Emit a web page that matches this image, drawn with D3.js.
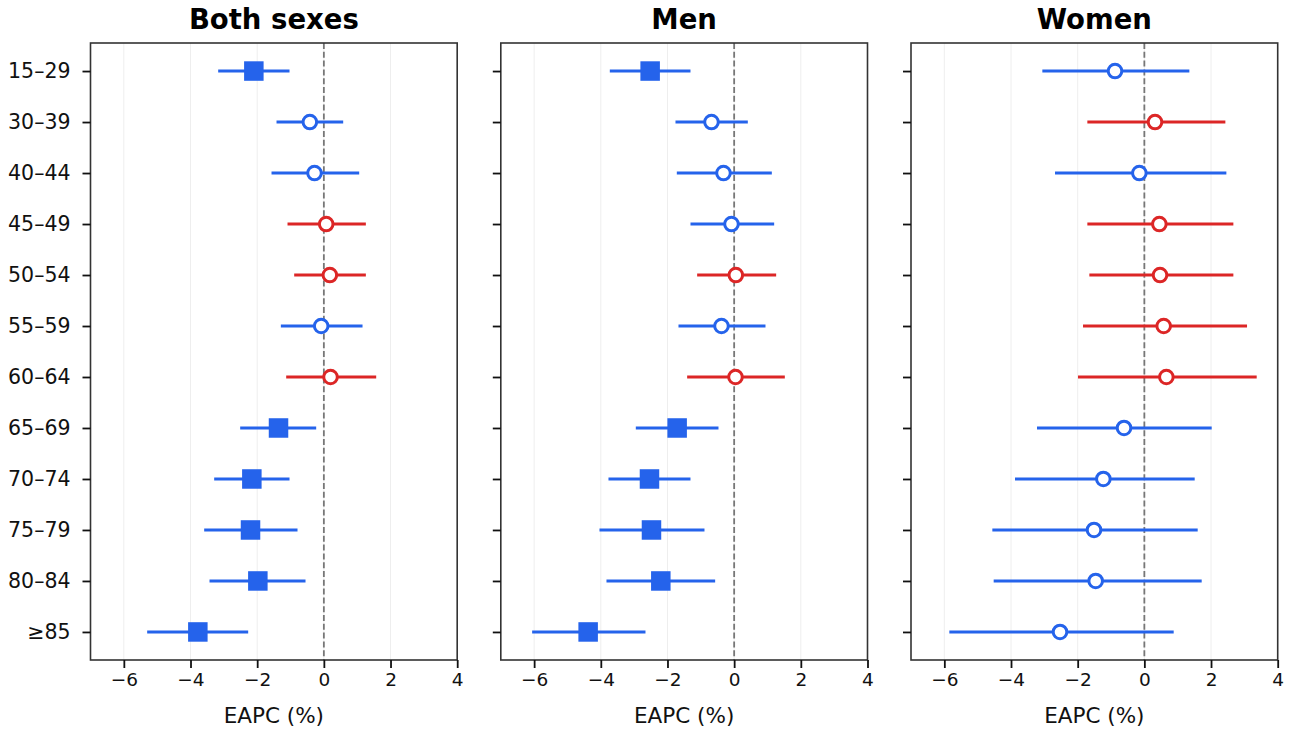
<!DOCTYPE html>
<html>
<head>
<meta charset="utf-8">
<script src="https://cdn.jsdelivr.net/npm/d3@7"></script>
<style>
  body { margin: 0; background: #fff; }
  svg { display: block; font-family: "DejaVu Sans", sans-serif; }
</style>
</head>
<body>
<svg id="chart" width="1293" height="731"></svg>
<script>
// age groups, top to bottom
const ageGroups = ["15–29", "30–39", "40–44", "45–49", "50–54", "55–59", "60–64",
                   "65–69", "70–74", "75–79", "80–84", "≥85"];

// EAPC estimates and 95% CI
const bothEst = [-2.10, -0.42, -0.28, 0.07, 0.18, -0.08, 0.20, -1.36, -2.16, -2.20, -1.98, -3.78];
const bothLo  = [-3.17, -1.42, -1.57, -1.09, -0.89, -1.29, -1.13, -2.51, -3.29, -3.59, -3.43, -5.30];
const bothHi  = [-1.03, 0.58, 1.06, 1.26, 1.26, 1.16, 1.57, -0.23, -1.03, -0.79, -0.55, -2.27];

const menEst = [-2.52, -0.68, -0.32, -0.08, 0.05, -0.38, 0.04, -1.71, -2.54, -2.48, -2.20, -4.38];
const menLo  = [-3.73, -1.76, -1.72, -1.31, -1.11, -1.67, -1.41, -2.95, -3.77, -4.04, -3.83, -6.06];
const menHi  = [-1.31, 0.41, 1.13, 1.20, 1.26, 0.94, 1.52, -0.47, -1.31, -0.89, -0.57, -2.66];

const womenEst = [-0.88, 0.32, -0.15, 0.45, 0.47, 0.58, 0.66, -0.61, -1.23, -1.51, -1.46, -2.53];
const womenLo  = [-3.06, -1.71, -2.68, -1.71, -1.65, -1.84, -1.99, -3.22, -3.88, -4.56, -4.52, -5.85];
const womenHi  = [1.35, 2.43, 2.46, 2.67, 2.67, 3.08, 3.37, 2.02, 1.51, 1.60, 1.72, 0.88];

const panelTitles = ["Both sexes", "Men", "Women"];
const xTicks = [-6, -4, -2, 0, 2, 4];

const panels = [
  {title: panelTitles[0], est: bothEst, lo: bothLo, hi: bothHi},
  {title: panelTitles[1], est: menEst, lo: menLo, hi: menHi},
  {title: panelTitles[2], est: womenEst, lo: womenLo, hi: womenHi}
];

const blue = "#2563eb", red = "#dc2626";

const panelW = 366.7, plotTop = 43, plotBottom = 660;
const lefts = [90.5, 500.8, 911];

const svg = d3.select("#chart");

const x = d3.scaleLinear().domain([-7, 4]).range([0, panelW]);
const y = d3.scaleLinear().domain([-0.55, ageGroups.length - 0.45]).range([plotTop, plotBottom]);

panels.forEach((p, pi) => {
  const g = svg.append("g").attr("transform", `translate(${lefts[pi]},0)`);

  // light vertical grid
  g.selectAll(".grid").data(xTicks).enter().append("line")
    .attr("x1", d => x(d)).attr("x2", d => x(d))
    .attr("y1", plotTop).attr("y2", plotBottom)
    .attr("stroke", "#eeeeee").attr("stroke-width", 1);

  // zero reference
  g.append("line")
    .attr("x1", x(0)).attr("x2", x(0))
    .attr("y1", plotTop).attr("y2", plotBottom)
    .attr("stroke", "#777").attr("stroke-width", 1.8)
    .attr("stroke-dasharray", "6,2.8");

  const rows = ageGroups.map((a, i) => ({
    i: i, est: p.est[i], lo: p.lo[i], hi: p.hi[i],
    sig: p.lo[i] > 0 || p.hi[i] < 0,
    color: p.est[i] < 0 ? blue : red
  }));

  // CI lines
  g.selectAll(".ci").data(rows).enter().append("line")
    .attr("x1", d => x(d.lo)).attr("x2", d => x(d.hi))
    .attr("y1", d => y(d.i)).attr("y2", d => y(d.i))
    .attr("stroke", d => d.color).attr("stroke-width", 3);

  // significant: filled squares
  const sq = 19.5;
  g.selectAll(".sq").data(rows.filter(d => d.sig)).enter().append("rect")
    .attr("x", d => x(d.est) - sq / 2).attr("y", d => y(d.i) - sq / 2)
    .attr("width", sq).attr("height", sq)
    .attr("fill", d => d.color);

  // not significant: open circles
  g.selectAll(".dot").data(rows.filter(d => !d.sig)).enter().append("circle")
    .attr("cx", d => x(d.est)).attr("cy", d => y(d.i))
    .attr("r", 6.8)
    .attr("fill", "#fff").attr("stroke", d => d.color).attr("stroke-width", 3);

  // frame
  g.append("rect")
    .attr("x", 0).attr("y", plotTop).attr("width", panelW).attr("height", plotBottom - plotTop)
    .attr("fill", "none").attr("stroke", "#333").attr("stroke-width", 1.6);

  // x axis
  const xa = g.append("g").attr("transform", `translate(0,${plotBottom})`)
    .call(d3.axisBottom(x).tickValues(xTicks).tickSize(8).tickPadding(5).tickSizeOuter(0));
  xa.select(".domain").remove();
  xa.selectAll(".tick line").attr("stroke", "#111").attr("stroke-width", 1.8);
  xa.selectAll(".tick text").attr("font-size", 18.5).attr("fill", "#111")
    .attr("font-family", "DejaVu Sans");

  // y axis
  const ya = g.append("g")
    .call(d3.axisLeft(y).tickValues(d3.range(ageGroups.length))
      .tickFormat(pi === 0 ? (d => ageGroups[d]) : () => "")
      .tickSize(8).tickPadding(12).tickSizeOuter(0));
  ya.select(".domain").remove();
  ya.selectAll(".tick line").attr("stroke", "#111").attr("stroke-width", 1.8);
  ya.selectAll(".tick text").attr("font-size", 20.5).attr("fill", "#111")
    .attr("font-family", "DejaVu Sans");

  // title
  g.append("text")
    .attr("x", panelW / 2).attr("y", 29)
    .attr("text-anchor", "middle")
    .attr("font-size", 27.5).attr("font-weight", "bold").attr("fill", "#000")
    .text(p.title);

  // x label
  g.append("text")
    .attr("x", panelW / 2).attr("y", 723)
    .attr("text-anchor", "middle")
    .attr("font-size", 21.5).attr("fill", "#111")
    .text("EAPC (%)");
});
</script>
</body>
</html>
